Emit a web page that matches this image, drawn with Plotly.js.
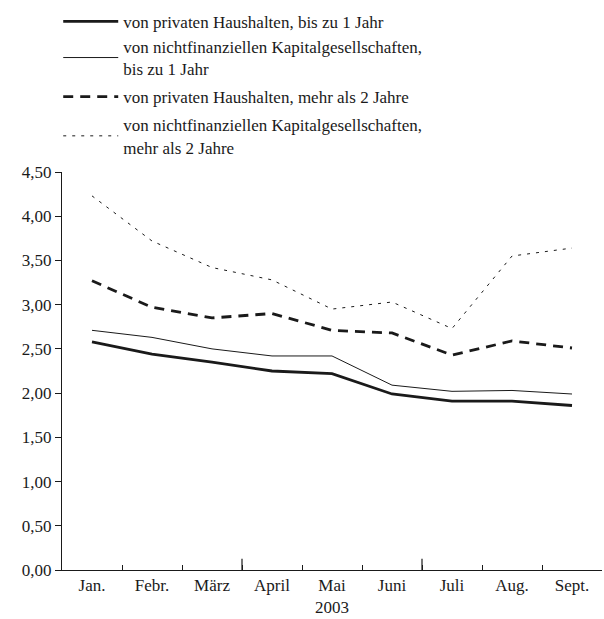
<!DOCTYPE html>
<html>
<head>
<meta charset="utf-8">
<script src="https://cdn.plot.ly/plotly-3.0.1.min.js"></script>
<style>html,body{margin:0;padding:0;background:#fff;}#chart{width:604px;height:619px;}</style>
</head>
<body>
<div id="chart"></div>
<script>
const months = ["Jan.", "Febr.", "März", "April", "Mai", "Juni", "Juli", "Aug.", "Sept."];
const hhShort = [2.58, 2.44, 2.35, 2.25, 2.22, 1.99, 1.91, 1.91, 1.86];
const nfcShort = [2.71, 2.63, 2.50, 2.42, 2.42, 2.09, 2.02, 2.03, 1.99];
const hhLong = [3.27, 2.97, 2.85, 2.90, 2.71, 2.68, 2.43, 2.59, 2.51];
const nfcLong = [4.23, 3.72, 3.42, 3.28, 2.95, 3.03, 2.73, 3.55, 3.64];
const seriesNames = [
  "von privaten Haushalten, bis zu 1 Jahr",
  "von nichtfinanziellen Kapitalgesellschaften,<br>bis zu 1 Jahr",
  "von privaten Haushalten, mehr als 2 Jahre",
  "von nichtfinanziellen Kapitalgesellschaften,<br>mehr als 2 Jahre"
];
const yearLabel = "2003";
const quarterBounds = [2.5, 5.5];

const ink = "#1a1a1a";
const traces = [
  {x: months, y: hhShort, name: seriesNames[0], legendgroup: "a", mode: "lines", line: {color: ink, width: 2.8}},
  {x: months, y: nfcShort, name: seriesNames[1], legendgroup: "a", mode: "lines", line: {color: ink, width: 1}},
  {x: months, y: hhLong, name: seriesNames[2], legendgroup: "b", mode: "lines", line: {color: ink, width: 2.8, dash: "10px,7px"}},
  {x: months, y: nfcLong, name: seriesNames[3], legendgroup: "c", mode: "lines", line: {color: ink, width: 1, dash: "3px,6px"}}
];

const font = {family: "Liberation Serif, Times New Roman, Times, serif", size: 17, color: ink};

const layout = {
  width: 604, height: 619,
  margin: {l: 62, r: 2, t: 172, b: 49},
  paper_bgcolor: "#fff", plot_bgcolor: "#fff",
  font: font,
  separators: ",.",
  showlegend: true,
  legend: {
    x: -0.007, xanchor: "left", y: 1.018, yanchor: "bottom",
    bgcolor: "rgba(0,0,0,0)", font: font,
    traceorder: "grouped", groupclick: "toggleitem",
    tracegroupgap: 3, itemwidth: 55
  },
  xaxis: {
    type: "category",
    range: [-0.5, 8.5],
    showgrid: false, zeroline: false,
    showline: true, linecolor: ink, linewidth: 1,
    ticks: "inside", tickson: "boundaries", ticklen: 5, tickcolor: ink, tickwidth: 1,
    tickfont: font,
    title: {text: yearLabel, font: font, standoff: 6}
  },
  yaxis: {
    range: [0, 4.5],
    dtick: 0.5, tick0: 0,
    tickformat: ".2f",
    showgrid: false, zeroline: false,
    showline: true, linecolor: ink, linewidth: 1,
    ticks: "outside", ticklen: 6, tickcolor: ink, tickwidth: 1,
    tickfont: font
  },
  shapes: quarterBounds.map(b => ({
    type: "line", xref: "x", yref: "paper", x0: b, x1: b, y0: 0, y1: 0.028,
    line: {color: ink, width: 1.2}
  }))
};

Plotly.newPlot("chart", traces, layout, {displayModeBar: false, staticPlot: true});
</script>
</body>
</html>
